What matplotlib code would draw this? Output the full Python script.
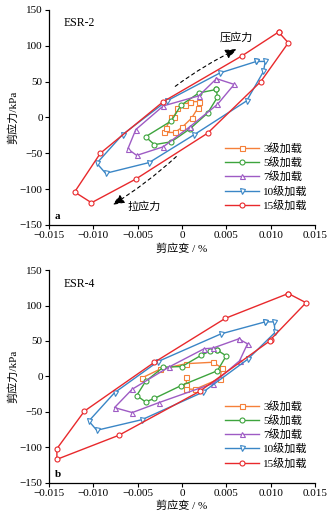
import matplotlib
matplotlib.use("Agg")
import matplotlib.pyplot as plt
from matplotlib.patches import FancyArrowPatch

plt.rcParams['font.family'] = ['Liberation Serif', 'Noto Sans CJK SC']
plt.rcParams['axes.unicode_minus'] = True

labels = ["3级加载", "5级加载", "7级加载", "10级加载", "15级加载"]
colors = ["#F5803A", "#3DA43D", "#9E5BC4", "#3A86C6", "#E8292C"]
markers = ["s", "o", "^", "v", "o"]

# ESR-2 (panel a): strain (%), stress (kPa)
a3_x = [0.0009, 0.0019, 0.0018, 0.0011, 0.0, -0.0008, -0.0020, -0.0018, -0.0012, -0.0009, -0.0005, 0.0003, 0.0009]
a3_y = [22, 22, 13, -1, -14, -21, -21, -15, 0, 0, 13, 17, 22]
a5_x = [0.0039, 0.0040, 0.0029, 0.0009, -0.0012, -0.0031, -0.0041, -0.0012, -0.0001, 0.0019, 0.0039]
a5_y = [39, 28, 6, -16, -34, -38, -27, -5, 17, 34, 39]
a7_x = [0.0039, 0.0059, 0.0040, 0.0009, -0.0021, -0.0051, -0.0061, -0.0052, -0.0021, 0.0019, 0.0039]
a7_y = [54, 46, 18, -13, -41, -53, -44, -17, 16, 30, 54]
a10_x = [0.0084, 0.0094, 0.0092, 0.0073, 0.0014, -0.0037, -0.0086, -0.0096, -0.0067, -0.0017, 0.0043, 0.0084]
a10_y = [78, 78, 64, 23, -24, -63, -78, -64, -24, 23, 62, 78]
a15_x = [0.0109, 0.0120, 0.0089, 0.0029, -0.0052, -0.0102, -0.0121, -0.0092, -0.0021, 0.0068, 0.0109]
a15_y = [119, 104, 50, -22, -86, -119, -104, -50, 22, 86, 119]

# ESR-4 (panel b)
b3_x = [0.0005, 0.0005, 0.0005, 0.0015, 0.0043, 0.0045, 0.0035, 0.0005, -0.0025, -0.0045]
b3_y = [-1, -12, -18, -18, -3, 12, 20, 18, 10, -2]
b5_x = [0.0040, 0.0050, 0.0040, -0.0001, -0.0031, -0.0041, -0.0051, -0.0041, -0.0021, 0.0, 0.0022, 0.0032, 0.0040]
b5_y = [37, 29, 8, -13, -31, -36, -27, -7, 13, 14, 30, 36, 37]
b7_x = [0.0064, 0.0074, 0.0065, 0.0035, -0.0026, -0.0056, -0.0076, -0.0056, -0.0015, 0.0025, 0.0035, 0.0064]
b7_y = [53, 46, 22, -10, -37, -51, -44, -18, 13, 39, 40, 53]
b10_x = [0.0094, 0.0104, 0.0105, 0.0074, 0.0024, -0.0045, -0.0096, -0.0105, -0.0076, -0.0027, 0.0044, 0.0094]
b10_y = [77, 77, 62, 24, -22, -61, -76, -63, -23, 21, 60, 77]
b15_x = [0.0120, 0.0140, 0.0100, 0.0099, 0.0020, -0.0071, -0.0141, -0.0141, -0.0110, -0.0031, 0.0049, 0.0120]
b15_y = [117, 104, 52, 50, -21, -83, -117, -102, -49, 20, 82, 117]

panels = [
    ("ESR-2", "a", [(a3_x, a3_y), (a5_x, a5_y), (a7_x, a7_y), (a10_x, a10_y), (a15_x, a15_y)]),
    ("ESR-4", "b", [(b3_x, b3_y), (b5_x, b5_y), (b7_x, b7_y), (b10_x, b10_y), (b15_x, b15_y)]),
]

fig = plt.figure(figsize=(3.35, 5.16), dpi=100)
ax_a = fig.add_axes([0.146, 0.564, 0.794, 0.417])
ax_b = fig.add_axes([0.146, 0.0645, 0.794, 0.412])

for ax, (name, tag, series) in zip([ax_a, ax_b], panels):
    for (xs, ys), lab, c, m in zip(series, labels, colors, markers):
        ax.plot(xs, ys, color=c, lw=1.0, marker=m, ms=3.6, mfc="white",
                mec=c, mew=0.8, label=lab)
    ax.set_xlim(-0.015, 0.015)
    ax.set_ylim(-150, 150)
    ax.set_xticks([-0.015, -0.010, -0.005, 0, 0.005, 0.010, 0.015])
    ax.set_xticklabels(["\u22120.015", "\u22120.010", "\u22120.005", "0", "0.005", "0.010", "0.015"])
    ax.set_yticks([-150, -100, -50, 0, 50, 100, 150])
    ax.set_yticklabels(["\u2212150", "\u2212100", "\u221250", "0", "50", "100", "150"])
    ax.tick_params(direction="out", length=3, width=0.8, labelsize=8, pad=1.5)
    ax.spines["top"].set_visible(False)
    ax.spines["right"].set_visible(False)
    ax.spines["left"].set_linewidth(0.9)
    ax.spines["bottom"].set_linewidth(0.9)
    ax.set_xlabel("剪应变 / %", fontsize=8, labelpad=2)
    ax.set_ylabel("剪应力/kPa", fontsize=8, labelpad=1)
    ax.text(-0.0133, 131, name, fontsize=8.5, va="center")
    ax.text(-0.0143, -138, tag, fontsize=8, va="center", fontweight="bold")
    ax.legend(loc="lower right", bbox_to_anchor=(1.01, 0.02), frameon=False,
              fontsize=8, handlelength=3.0, labelspacing=0.3, handletextpad=0.4)

# dashed arrows on panel a
up = FancyArrowPatch((-0.0010, 41), (0.0065, 97), connectionstyle="arc3,rad=-0.05",
                     arrowstyle="-|>,head_length=7,head_width=2.8", ls=(0, (3, 3)),
                     color="black", lw=0.8, mutation_scale=1)
ax_a.add_patch(up)
ax_a.text(0.0061, 111, "压应力", fontsize=8, ha="center", va="center")
dn = FancyArrowPatch((-0.0004, -52), (-0.0081, -124), connectionstyle="arc3,rad=-0.05",
                     arrowstyle="-|>,head_length=7,head_width=2.8", ls=(0, (3, 3)),
                     color="black", lw=0.8, mutation_scale=1)
ax_a.add_patch(dn)
ax_a.text(-0.0042, -124, "拉应力", fontsize=8, ha="center", va="center")

fig.savefig("out.png", dpi=100)
